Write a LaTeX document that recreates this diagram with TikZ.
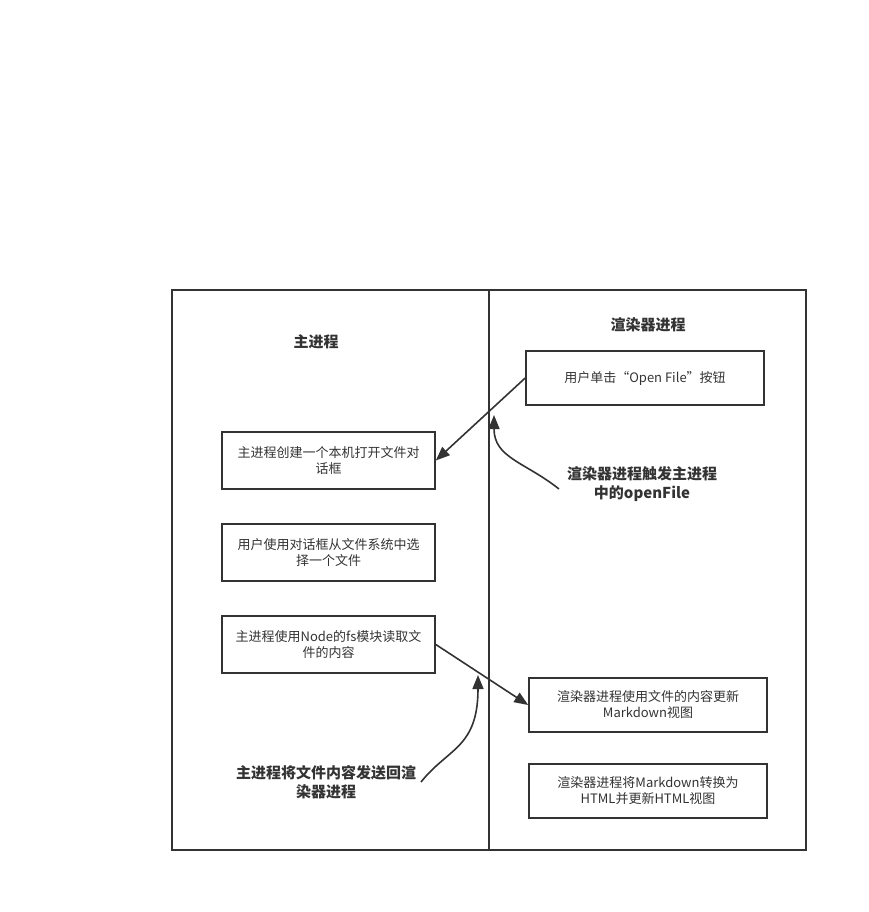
\documentclass[tikz,border=0pt]{standalone}
\usepackage{fontspec}
\setmainfont{Noto Sans CJK SC}
\usetikzlibrary{positioning, arrows.meta}
\definecolor{ink}{RGB}{51,51,51}
\tikzset{
  LN/.style={draw=ink,line width=1.6pt},
  BX/.style={draw=ink,line width=1.6pt,rectangle,minimum height=56pt,font=\fontsize{13}{16}\selectfont,text=ink,align=center,inner sep=2pt},
  TT/.style={font=\fontsize{15}{19}\selectfont\bfseries,text=ink,align=center},
  FL/.style={-{Triangle[length=14pt,width=11pt]},draw=ink,line width=1.6pt},
}
\begin{document}
\begin{tikzpicture}[x=1pt,y=-1pt]
\useasboundingbox (0,0) rectangle (868,912);

% Swimlanes
\draw[LN] (172,290) rectangle (489,850);
\draw[LN] (489,290) rectangle (806,850);
\node[TT](mainttl) at (316,342){主进程};
\node[TT](rendttl) at (648,325){渲染器进程};

% Renderer side
\node[BX,minimum width=238pt,minimum height=54pt](click) at (645,378){用户单击“Open File”按钮};
\node[BX,minimum width=238pt,minimum height=54pt](update) at (648,705){渲染器进程使用文件的内容更新\\Markdown视图};
\node[BX,minimum width=238pt,minimum height=54pt](tohtml) at (648,791){渲染器进程将Markdown转换为\\HTML并更新HTML视图};

% Main side
\node[BX,minimum width=213pt,minimum height=57pt](dialog) at (328.5,460.5){主进程创建一个本机打开文件对\\话框};
\node[BX,minimum width=213pt,minimum height=57pt](choose) at (328.5,552.5){用户使用对话框从文件系统中选\\择一个文件};
\node[BX,minimum width=213pt,minimum height=57pt](readfs) at (328.5,644.5){主进程使用Node的fs模块读取文\\件的内容};

% Notes
\node[TT](trigger) at (642,484){渲染器进程触发主进程\\中的openFile};
\node[TT](sendback) at (326,782){主进程将文件内容发送回渲\\染器进程};
\coordinate (tip1) at (494,415);
\coordinate (tip2) at (478,675);

% FLOWS
\draw[FL](click.west)--(dialog.east);
\draw[FL](readfs.east)--(update.west);
\draw[FL](559,489) .. controls (525,462) and (494,458) .. (tip1);
\draw[FL](421,782) .. controls (448,748) and (478,748) .. (tip2);

\end{tikzpicture}
\end{document}
